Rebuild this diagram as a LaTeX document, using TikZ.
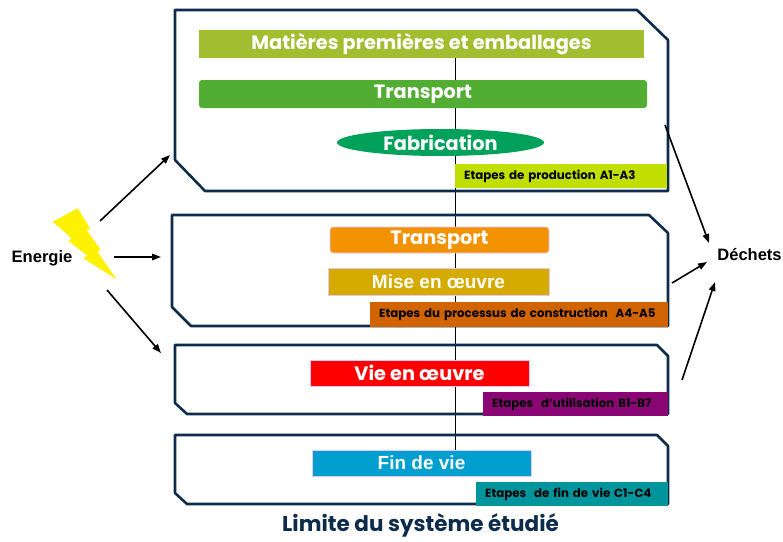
\documentclass[tikz,border=0pt]{standalone}
\usepackage{fontspec}
\setmainfont{Liberation Sans}
\newfontfamily\popfont{Poppins}
\usetikzlibrary{shapes.geometric,arrows.meta}
\definecolor{marine}{HTML}{0D2B4B}
\definecolor{olive}{HTML}{A3BD31}
\definecolor{vert}{HTML}{52AE32}
\definecolor{vertfonce}{HTML}{00A15B}
\definecolor{citron}{HTML}{C0DE00}
\definecolor{orange}{HTML}{F39200}
\definecolor{ocre}{HTML}{D5AB00}
\definecolor{rouille}{HTML}{D26400}
\definecolor{rouge}{HTML}{FF0000}
\definecolor{violet}{HTML}{8A0674}
\definecolor{bleu}{HTML}{009FCF}
\definecolor{sarcelle}{HTML}{00949D}
\definecolor{lavande}{HTML}{E3C8F5}
\begin{document}
\begin{tikzpicture}[x=1pt,y=-1pt,
	cadre/.style={draw=marine,line width=2.6pt,line join=round},
	barre/.style={text=white,inner sep=0pt,font=\popfont\bfseries\fontsize{19.3}{22}\selectfont},
	barrearial/.style={barre,draw=lavande,line width=0.6pt,font=\bfseries\fontsize{19}{22}\selectfont},
	etiquette/.style={anchor=north west,inner xsep=9pt,inner ysep=0pt,align=left,font=\popfont\bfseries\fontsize{11.8}{13}\selectfont},
	fleche/.style={-{Triangle[length=9pt,width=6.5pt]},line width=1.6pt}]
	\useasboundingbox (0,0) rectangle (783,541);
	
	% ligne verticale
	\coordinate (haut) at (455,58);
	\coordinate (bas) at (455,450);
	\draw[line width=0.7pt] (haut) -- (bas);
	
	% cadres
	\draw[cadre] (175,10) -- (637,10) -- (668,40) -- (668,191) -- (205,191) -- (175,160) -- cycle;
	\draw[cadre] (172,215) -- (649,215) -- (668,233) -- (668,326) -- (191,326) -- (172,307) -- cycle;
	\draw[cadre] (175,345) -- (657,345) -- (668,356) -- (668,414) -- (187,414) -- (175,403) -- cycle;
	\draw[cadre] (175,435) -- (657,435) -- (668,446) -- (668,504) -- (187,504) -- (175,493) -- cycle;
	
	% production
	\node[barre,fill=olive,minimum width=445pt,minimum height=28pt] (matieres) at (421.5,44) {Matières premières et emballages};
	\node[barre,fill=vert,rounded corners=3pt,minimum width=448pt,minimum height=28pt] (transport) at (423,94) {Transport};
	\node[barre,fill=vertfonce,ellipse,minimum width=207pt,minimum height=27pt] (fabrication) at (440.5,142.5) {Fabrication};
	\node[etiquette,fill=citron,text width=194pt,minimum height=24pt] (production) at (455,164) {Etapes de production A1-A3};
	
	% construction
	\node[barre,fill=orange,draw=lavande,line width=0.6pt,rounded corners=3pt,minimum width=219pt,minimum height=26pt] (transport2) at (439.5,240) {Transport};
	\node[barrearial,fill=ocre,minimum width=221pt,minimum height=27pt] (mise) at (438.5,281.5) {Mise en œuvre};
	\node[etiquette,fill=rouille,text width=280pt,minimum height=25pt] (processus) at (370,302) {Etapes du processus de construction~ A4-A5};
	
	% utilisation
	\node[barre,fill=rouge,draw=lavande,line width=0.6pt,minimum width=219pt,minimum height=26pt] (vie) at (419.5,373) {Vie en œuvre};
	\node[etiquette,fill=violet,text width=167pt,minimum height=24pt] (utilisation) at (483,392) {Etapes~ d’utilisation B1-B7};
	
	% fin de vie
	\node[barrearial,fill=bleu,minimum width=219pt,minimum height=26pt] (fin) at (421.5,463) {Fin de vie};
	\node[etiquette,fill=sarcelle,text width=174pt,minimum height=24pt] (findevie) at (476,482) {Etapes~ de fin de vie C1-C4};
	
	\node[text=marine,font=\popfont\bfseries\fontsize{21.5}{24}\selectfont] (limite) at (420.5,525) {Limite du système étudié};
	
	% energie
	\fill[yellow] (52.7,221.7) -- (77.7,208.3) -- (90,228.3) -- (86.7,230) -- (100.7,250) -- (97.3,251.7) -- (116.7,279.3) -- (83.3,258.3) -- (87.3,255.7) -- (68.3,240.7) -- (71.7,238.3) -- cycle;
	\node[font=\bfseries\fontsize{16.6}{19}\selectfont] (energie) at (42,258) {Energie};
	\coordinate (e1) at (100,221);
	\coordinate (e2) at (114,257);
	\coordinate (e3) at (107,290);
	\coordinate (c1) at (170,155);
	\coordinate (c2) at (161,257);
	\coordinate (c3) at (161,353);
	\draw[fleche] (e1) -- (c1);
	\draw[fleche] (e2) -- (c2);
	\draw[fleche] (e3) -- (c3);
	
	% dechets
	\node[font=\bfseries\fontsize{16.5}{19}\selectfont] (dechets) at (749.5,255) {Déchets};
	\coordinate (s1) at (665,125);
	\coordinate (s2) at (672,283);
	\coordinate (s3) at (682,380);
	\coordinate (d1) at (709,243);
	\coordinate (d2) at (707,262);
	\coordinate (d3) at (715,282);
	\draw[fleche] (s1) -- (d1);
	\draw[fleche] (s2) -- (d2);
	\draw[fleche] (s3) -- (d3);
\end{tikzpicture}
\end{document}
